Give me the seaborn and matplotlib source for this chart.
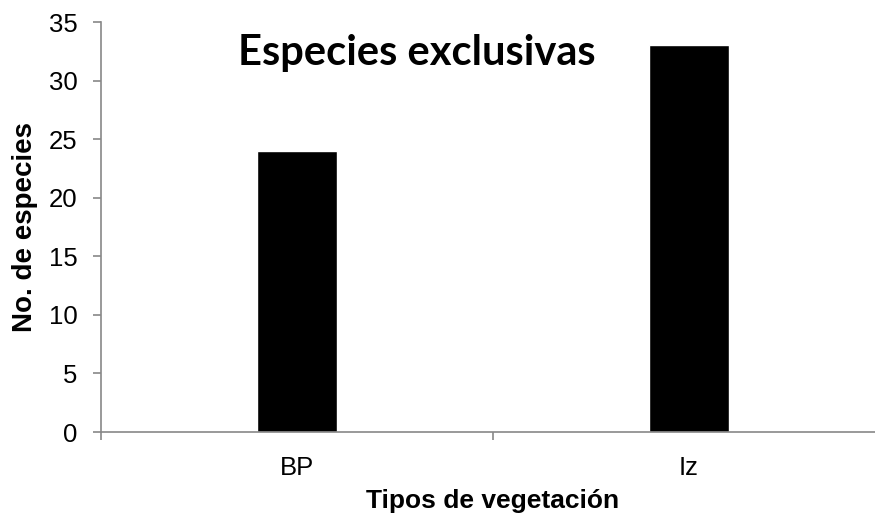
import seaborn as sns
import matplotlib.pyplot as plt
import pandas as pd

categorias = ["BP", "Iz"]
especies = [24, 33]
y_ticks = [0, 5, 10, 15, 20, 25, 30, 35]

sns.set_style("white")
plt.rcParams['font.family'] = ['Liberation Sans', 'DejaVu Sans']
plt.rcParams['text.color'] = 'black'
plt.rcParams['axes.labelcolor'] = 'black'
plt.rcParams['xtick.labelcolor'] = 'black'
plt.rcParams['ytick.labelcolor'] = 'black'

df = pd.DataFrame({"tipo": categorias, "n": especies})

fig = plt.figure(figsize=(8.75, 5.16), dpi=100)
ax = fig.add_axes([101/875, 1-432/516, 784/875, 410/516])

sns.barplot(data=df, x="tipo", y="n", color="black", width=0.204,
            saturation=1, ax=ax)

ax.set_xlim(-0.5, 1.5)
ax.set_ylim(0, 35)
ax.set_yticks(y_ticks)
ax.set_xticks([-0.5, 0.5, 1.5], minor=True)
ax.tick_params(axis='x', which='major', bottom=False, labelsize=18.5, pad=14)
ax.tick_params(axis='x', which='minor', bottom=True, length=6,
               color='#888888', width=1.2)
ax.tick_params(axis='y', left=True, length=6, color='#888888', width=1.2,
               labelsize=18.5, pad=11)

for s in ['top', 'right']:
    ax.spines[s].set_visible(False)
for s in ['left', 'bottom']:
    ax.spines[s].set_color('#888888')
    ax.spines[s].set_linewidth(1.2)

ax.set_xlabel("Tipos de vegetación", fontsize=19, fontweight='bold', labelpad=6)
ax.set_ylabel("No. de especies", fontsize=20, fontweight='bold', labelpad=8)

ax.text(0.306, 31.3, "Especies exclusivas", fontsize=30, fontweight='bold',
        family=['Lato', 'DejaVu Sans'], ha='center', va='baseline')

fig.savefig("out.png", dpi=100)
